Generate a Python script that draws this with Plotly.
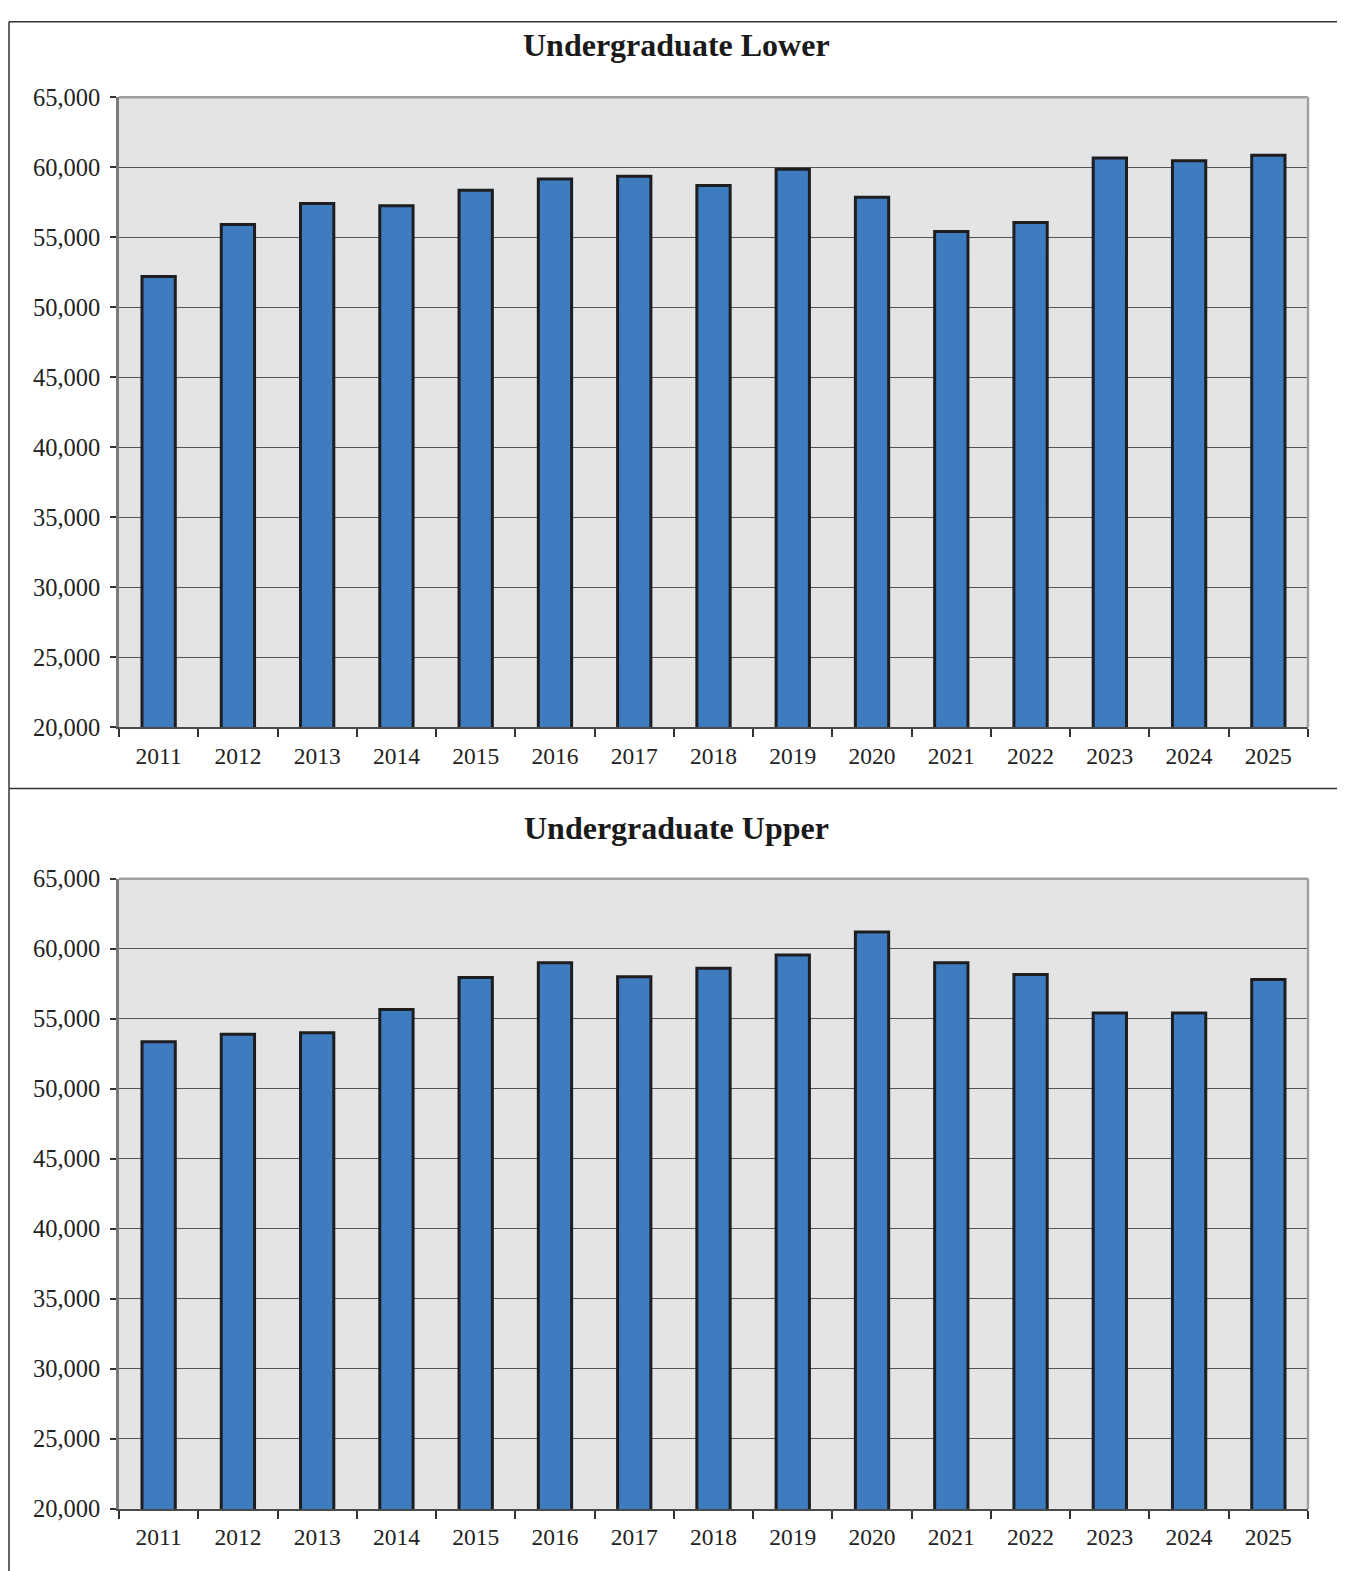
import plotly.graph_objects as go
from plotly.subplots import make_subplots

# ---------------- data ----------------
years = [str(y) for y in range(2011, 2026)]
lower = [52200, 55900, 57400, 57250, 58350, 59150, 59350, 58700, 59850,
         57850, 55400, 56050, 60650, 60450, 60850]
upper = [53350, 53900, 54000, 55650, 57950, 59000, 58000, 58600, 59550,
         61200, 59000, 58150, 55400, 55400, 57800]
titles = ["Undergraduate Lower", "Undergraduate Upper"]

W, H = 1329, 1580
# where the figure lands in the final picture (measured from earlier renders)
OFFX = 8
OFFY, SY = 21.0, 0.981
FONT = "Liberation Serif"


def px_x(v):
    return (v - OFFX) / W


def px_y(v):
    return 1 - ((v - OFFY) / SY) / H


fig = make_subplots(rows=2, cols=1)

for i, vals in enumerate([lower, upper], start=1):
    fig.add_trace(go.Bar(
        x=years, y=vals,
        marker=dict(color="#3e7bbf", line=dict(color="#1e1e20", width=3)),
        width=0.42, showlegend=False,
    ), row=i, col=1)

# plot area positions (picture pixels)
doms = [(97, 726), (877, 1506)]
for i, (t, b) in enumerate(doms, start=1):
    xa = "xaxis" if i == 1 else f"xaxis{i}"
    ya = "yaxis" if i == 1 else f"yaxis{i}"
    fig.layout[xa].update(
        domain=[px_x(119), px_x(1308)],
        type="category", tickson="boundaries",
        ticks="outside", ticklen=8, tickwidth=1.5, tickcolor="#333",
        showline=True, linecolor="#4a4a4a", linewidth=2,
        showgrid=False, ticklabelstandoff=6,
        tickfont=dict(family=FONT, size=23.5, color="#222"),
    )
    fig.layout[ya].update(
        domain=[px_y(b), px_y(t)],
        range=[20000, 65000], dtick=5000, tickformat=",",
        ticks="outside", ticklen=6, tickwidth=1.5, tickcolor="#333",
        showline=True, linecolor="#7a7a7a", linewidth=2.5,
        showgrid=True, gridcolor="#555555", gridwidth=1.3,
        zeroline=False, ticklabelstandoff=5,
        tickfont=dict(family=FONT, size=24.5, color="#222"),
    )
    xr = "x" if i == 1 else f"x{i}"
    yr = "y" if i == 1 else f"y{i}"
    # lighter frame on top and right of plot area
    fig.add_shape(type="line", xref=f"{xr} domain", yref=f"{yr} domain",
                  x0=0, x1=1, y0=1, y1=1, line=dict(color="#a0a0a0", width=2.5))
    fig.add_shape(type="line", xref=f"{xr} domain", yref=f"{yr} domain",
                  x0=1, x1=1, y0=0, y1=1, line=dict(color="#a0a0a0", width=2.5))

# panel titles
for title, ty in zip(titles, [45, 826]):
    fig.add_annotation(text=f"<b>{title}</b>", xref="paper", yref="paper",
                       x=px_x(676), y=px_y(ty), showarrow=False,
                       xanchor="center", yanchor="middle",
                       font=dict(family=FONT, size=32, color="#1a1a1a"))

# panel frames
frame = dict(color="#333", width=1.5)
top = 0.9995
fig.add_shape(type="line", xref="paper", yref="paper",
              x0=px_x(9), x1=1, y0=top, y1=top, line=frame)
fig.add_shape(type="line", xref="paper", yref="paper",
              x0=px_x(9), x1=px_x(9), y0=top, y1=px_y(787), line=frame)
fig.add_shape(type="line", xref="paper", yref="paper",
              x0=px_x(9), x1=1, y0=px_y(787), y1=px_y(787), line=frame)
fig.add_shape(type="line", xref="paper", yref="paper",
              x0=px_x(9), x1=px_x(9), y0=px_y(787), y1=0, line=frame)

fig.update_layout(
    width=W, height=H,
    margin=dict(l=0, r=0, t=0, b=0),
    paper_bgcolor="white", plot_bgcolor="#e3e4e6",
    bargap=0.58,
)

fig.write_html("out.html")
